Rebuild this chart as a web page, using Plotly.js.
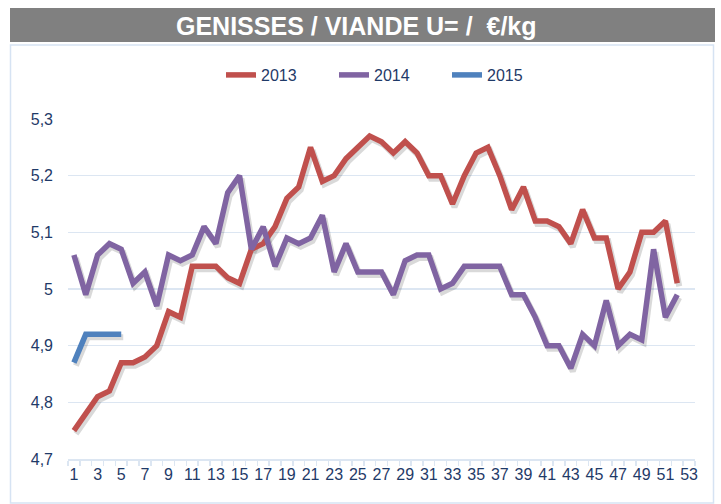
<!DOCTYPE html>
<html>
<head>
<meta charset="utf-8">
<script src="https://cdn.plot.ly/plotly-3.0.1.min.js"></script>
<style>html,body{margin:0;padding:0;background:#fff;}#chart{width:721px;height:504px;}</style>
</head>
<body>
<div id="chart"></div>
<script>
const weeks = [];
for (let i = 1; i <= 52; i++) weeks.push(i);
const weeks2015 = [1, 2, 3, 4, 5];

const values2013 = [4.75, 4.78, 4.81, 4.82, 4.87, 4.87, 4.88, 4.90, 4.96, 4.95,
  5.04, 5.04, 5.04, 5.02, 5.01, 5.07, 5.08, 5.11, 5.16, 5.18,
  5.25, 5.19, 5.20, 5.23, 5.25, 5.27, 5.26, 5.24, 5.26, 5.24,
  5.20, 5.20, 5.15, 5.20, 5.24, 5.25, 5.20, 5.14, 5.18, 5.12,
  5.12, 5.11, 5.08, 5.14, 5.09, 5.09, 5.00, 5.03, 5.10, 5.10,
  5.12, 5.01];
const values2014 = [5.06, 4.99, 5.06, 5.08, 5.07, 5.01, 5.03, 4.97, 5.06, 5.05,
  5.06, 5.11, 5.08, 5.17, 5.20, 5.07, 5.11, 5.04, 5.09, 5.08,
  5.09, 5.13, 5.03, 5.08, 5.03, 5.03, 5.03, 4.99, 5.05, 5.06,
  5.06, 5.00, 5.01, 5.04, 5.04, 5.04, 5.04, 4.99, 4.99, 4.95,
  4.90, 4.90, 4.86, 4.92, 4.90, 4.98, 4.90, 4.92, 4.91, 5.07,
  4.95, 4.99];
const values2015 = [4.87, 4.92, 4.92, 4.92, 4.92];

const seriesNames = ["2013", "2014", "2015"];
const seriesColors = ["#C0504D", "#8064A2", "#4F81BD"];

const xTickVals = [];
for (let i = 1; i <= 53; i += 2) xTickVals.push(i);
const xTickText = xTickVals.map(String);
const yTickVals = [4.7, 4.8, 4.9, 5.0, 5.1, 5.2, 5.3];
const yTickText = ["4,7", "4,8", "4,9", "5", "5,1", "5,2", "5,3"];

const FONT = "Liberation Sans, Arial, sans-serif";
const NAVY = "#1F3A68";
const GRID = "#DCE6F2";

// plot area in px: x 68..695, y 119..459
const L = 68, R = 695, T = 119, B = 459;
const px = v => (v - L) / (R - L);
const py = v => (B - v) / (B - T);

const XR = [0.5, 53.5], YR = [4.7, 5.3];
// shadow offset (px) converted to axis units
const dx = 2 * (XR[1] - XR[0]) / (R - L);
const dy = 3 * (YR[1] - YR[0]) / (B - T);

const xs = [weeks, weeks, weeks2015];
const ys = [values2013, values2014, values2015];

const traces = [];
// empty trace so that the base (tick/grid) subplot is drawn
traces.push({x: [null], y: [null], xaxis: "x", yaxis: "y", mode: "lines", showlegend: false, hoverinfo: "skip"});
for (let i = 0; i < 3; i++) {
  traces.push({x: xs[i], y: ys[i], xaxis: "x2", yaxis: "y2", mode: "lines", showlegend: false,
               hoverinfo: "skip", line: {color: "rgba(0,0,0,0.15)", width: 6}});
}
for (let i = 0; i < 3; i++) {
  traces.push({x: xs[i], y: ys[i], xaxis: "x3", yaxis: "y3", name: seriesNames[i], mode: "lines",
               line: {color: seriesColors[i], width: 5.5}});
}

const hiddenAxis = (r, ov) => ({range: r, overlaying: ov, visible: false, showgrid: false, zeroline: false, fixedrange: true});

const layout = {
  width: 721, height: 504,
  margin: {l: L, r: 721 - R, t: T, b: 504 - B, pad: 0},
  paper_bgcolor: "#fff", plot_bgcolor: "#fff",
  font: {family: FONT, color: NAVY, size: 16},
  showlegend: true,
  legend: {orientation: "h", x: px(221), xanchor: "left", y: py(75), yanchor: "middle",
           font: {family: FONT, size: 16, color: NAVY}, entrywidth: 68, entrywidthmode: "pixels",
           traceorder: "normal"},
  xaxis: {range: XR, tickvals: xTickVals, ticktext: xTickText, ticks: "",
          showgrid: false, zeroline: false, showline: true, linecolor: GRID, linewidth: 1.5,
          tickfont: {family: FONT, size: 16, color: NAVY},
          minor: {tick0: 0.5, dtick: 1, ticks: "outside", ticklen: 5, tickcolor: GRID, tickwidth: 1.5, showgrid: false},
          fixedrange: true},
  yaxis: {range: YR, tickvals: yTickVals, ticktext: yTickText, ticks: "",
          showgrid: true, gridcolor: GRID, gridwidth: 1.5, zeroline: false, showline: false,
          ticklabelstandoff: 14,
          tickfont: {family: FONT, size: 16, color: NAVY}, fixedrange: true},
  xaxis2: hiddenAxis([XR[0] - dx, XR[1] - dx], "x"),
  yaxis2: hiddenAxis([YR[0] + dy, YR[1] + dy], "y"),
  xaxis3: hiddenAxis(XR, "x"),
  yaxis3: hiddenAxis(YR, "y"),
  shapes: [
    {type: "rect", xref: "paper", yref: "paper", x0: px(10), x1: px(715), y0: py(8), y1: py(42),
     fillcolor: "#808080", line: {width: 0}, layer: "below"},
    {type: "rect", xref: "paper", yref: "paper", x0: px(10.5), x1: px(713.5), y0: py(45), y1: py(503),
     fillcolor: "rgba(0,0,0,0)", line: {color: "#D6E3F3", width: 1.5}, layer: "below"}
  ],
  annotations: [
    {xref: "paper", yref: "paper", x: px(356), y: py(26), xanchor: "center", yanchor: "middle",
     text: "<b>GENISSES / VIANDE U= /\u00a0\u00a0€/kg</b>", showarrow: false,
     font: {family: FONT, size: 25, color: "#fff"}}
  ]
};

Plotly.newPlot("chart", traces, layout, {displayModeBar: false, staticPlot: true});
</script>
</body>
</html>
